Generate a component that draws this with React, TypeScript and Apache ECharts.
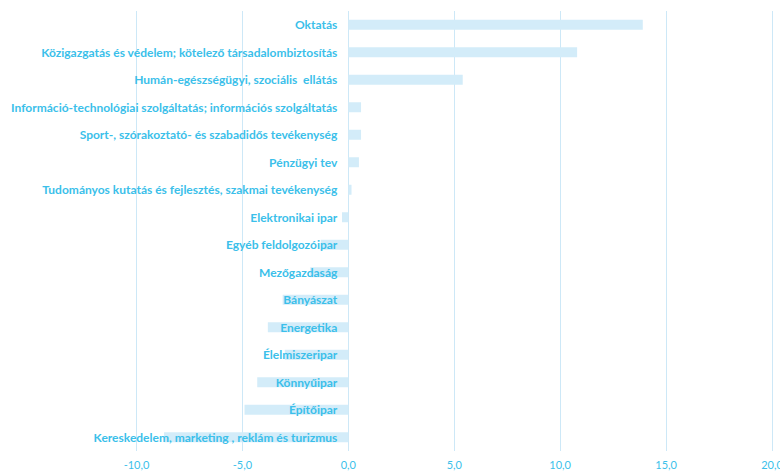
import React, { useEffect, useRef } from "react";
import * as echarts from "echarts";

const categories = [
  "Oktatás",
  "Közigazgatás és védelem; kötelező társadalombiztosítás",
  "Humán-egészségügyi, szociális  ellátás",
  "Információ-technológiai szolgáltatás; információs szolgáltatás",
  "Sport-, szórakoztató- és szabadidős tevékenység",
  "Pénzügyi tev",
  "Tudományos kutatás és fejlesztés, szakmai tevékenység",
  "Elektronikai ipar",
  "Egyéb feldolgozóipar",
  "Mezőgazdaság",
  "Bányászat",
  "Energetika",
  "Élelmiszeripar",
  "Könnyűipar",
  "Építőipar",
  "Kereskedelem, marketing , reklám és turizmus",
];

const values = [13.9, 10.8, 5.4, 0.6, 0.6, 0.5, 0.15, -0.3, -1.3, -1.8, -3.1, -3.8, -3.0, -4.3, -4.9, -8.7];

const xTicks = { min: -10, max: 20, interval: 5 };

const TEXT = "#3bbfea";
const BAR = "#d3ecf9";
const GRID = "#cde8f7";

const GRID_LEFT = 136.5;
const GRID_RIGHT = 8;
const WIDTH = 780;

export default function App() {
  const ref = useRef<HTMLDivElement>(null);
  useEffect(() => {
    document.body.style.margin = "0";
    const chart = echarts.init(ref.current!, null, { renderer: "svg" });
    const plotW = WIDTH - GRID_LEFT - GRID_RIGHT;
    const zeroOffset = ((0 - xTicks.min) / (xTicks.max - xTicks.min)) * plotW;
    chart.setOption({
      animation: false,
      grid: { left: GRID_LEFT, right: GRID_RIGHT, top: 11, bottom: 20, containLabel: false, outerBoundsMode: "none" },
      xAxis: {
        type: "value",
        min: xTicks.min,
        max: xTicks.max,
        interval: xTicks.interval,
        axisLine: { show: false },
        axisTick: { show: false },
        splitLine: { show: true, lineStyle: { color: GRID, width: 1 } },
        axisLabel: {
          color: TEXT,
          fontFamily: "Lato",
          fontSize: 11,
          margin: 8,
          formatter: (v: number) => v.toFixed(1).replace(".", ","),
        },
      },
      yAxis: {
        type: "category",
        data: categories,
        inverse: true,
        offset: -zeroOffset,
        axisLine: { show: false, onZero: false },
        axisTick: { show: false },
        splitLine: { show: false },
        axisLabel: {
          interval: 0,
          color: TEXT,
          fontFamily: "Lato",
          fontWeight: "bold",
          fontSize: 12,
          margin: 11,
        },
        z: 5,
      },
      series: [
        {
          type: "bar",
          data: values,
          barWidth: 10,
          itemStyle: { color: BAR },
          z: 1,
        },
      ],
    });
    return () => chart.dispose();
  }, []);
  return <div ref={ref} style={{ width: WIDTH, height: 471 }} />;
}
